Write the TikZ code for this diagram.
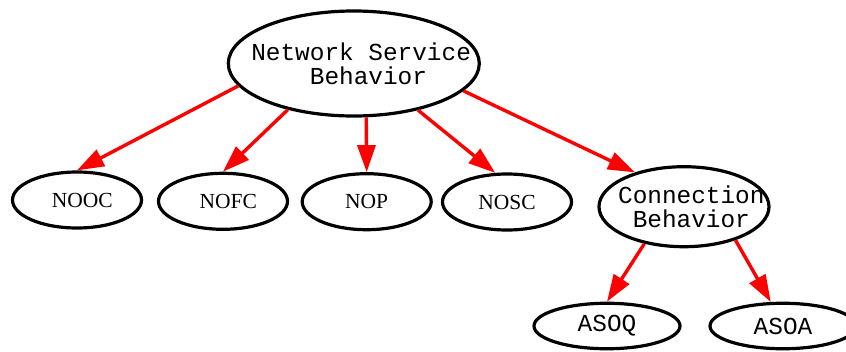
\documentclass[tikz,border=0pt]{standalone}
\usepackage{fontspec}
\usepackage{tikz}
\usetikzlibrary{shapes.geometric, arrows.meta, positioning}
\newfontfamily\gvmono{Liberation Mono}
\newfontfamily\gvserif{Liberation Serif}
\tikzset{
  basebox/.style={
    ellipse, draw=black, line width=3.2pt, inner sep=0pt
  },
  monotext/.style={font=\gvmono\fontsize{24.4pt}{24pt}\selectfont, align=center, inner sep=0pt},
  seriftext/.style={font=\gvserif\fontsize{21.5pt}{24pt}\selectfont, inner sep=0pt},
  monobox/.style={basebox, label={[monotext]center:#1}},
  leafbox/.style={basebox, minimum width=129pt, minimum height=56pt,
    label={[seriftext]center:#1}},
  redarrow/.style={-{Triangle[length=27pt, width=18pt]}, line width=3.4pt, color=red}
}
\begin{document}
\begin{tikzpicture}[x=1pt, y=-1pt]
  \useasboundingbox (0,0) rectangle (846,351);
  \node[monobox={~Network Service\\~~Behavior}, minimum width=251pt, minimum height=105pt]
        (service) at (353.8,63.5) {};
  \node[leafbox={~~NOOC}] (nooc) at (77,200) {};
  \node[leafbox={~~NOFC}] (nofc) at (223,201.3) {};
  \node[leafbox={NOP}]    (nop)  at (366.7,201.7) {};
  \node[leafbox={NOSC}]   (nosc) at (507,202) {};
  \node[monobox={~Connection\\~Behavior}, minimum width=170pt, minimum height=80pt]
        (conn) at (684,206.7) {};
  \node[monobox={ASOQ}, minimum width=146pt, minimum height=45.5pt] (asoq) at (607,326) {};
  \node[monobox={ASOA}, minimum width=146pt, minimum height=45.5pt] (asoa) at (783,326) {};

  \draw[redarrow] (service.191.9) -- (nooc.north);
  \draw[redarrow] (service.215.2) -- (nofc.north);
  \draw[redarrow] (service.283.6) -- (nop.north);
  \draw[redarrow] (service.324.6) -- (nosc.112.7);
  \draw[redarrow] (service.346.9) -- (conn.145.6);
  \draw[redarrow] (conn.223) -- (asoq.north);
  \draw[redarrow] (conn.327.8) -- (asoa.117);
\end{tikzpicture}
\end{document}
